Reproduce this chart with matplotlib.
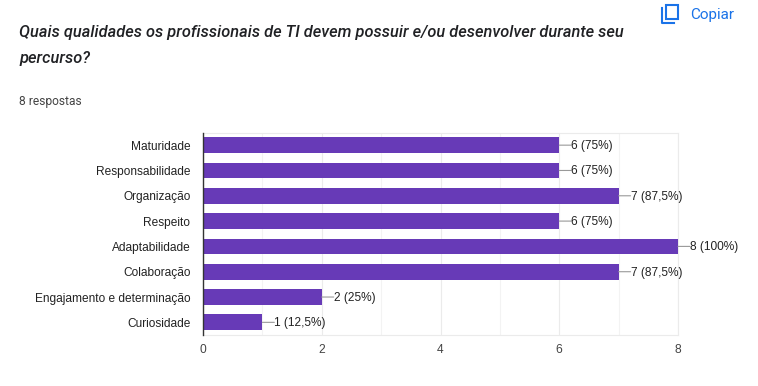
import matplotlib
matplotlib.use("Agg")
import matplotlib.pyplot as plt
import matplotlib.patches as mpatches

plt.rcParams['font.family'] = ['Liberation Sans', 'DejaVu Sans']

categorias = ["Maturidade", "Responsabilidade", "Organização", "Respeito",
              "Adaptabilidade", "Colaboração", "Engajamento e determinação", "Curiosidade"]
valores = [6, 6, 7, 6, 8, 7, 2, 1]
rotulos = ["6 (75%)", "6 (75%)", "7 (87,5%)", "6 (75%)",
           "8 (100%)", "7 (87,5%)", "2 (25%)", "1 (12,5%)"]
ticks_x = [0, 2, 4, 6, 8]

W, H = 758, 386
AZUL = '#1a73e8'
fig = plt.figure(figsize=(W / 100, H / 100), dpi=100, facecolor='white')

# area do grafico em pixels: x 203-678, y 132-335
ax = fig.add_axes([203 / W, 1 - 335 / H, (678 - 203) / W, (335 - 132.5) / H])
pos = list(range(len(categorias)))
ax.barh(pos, valores, height=0.62, color='#673ab7', zorder=3)
ax.set_ylim(len(categorias) - 0.5, -0.5)
ax.set_xlim(0, 8)
ax.set_yticks(pos)
ax.set_yticklabels(categorias, fontsize=8.55, color='#222222')
ax.set_xticks(ticks_x)
ax.set_xticklabels([str(t) for t in ticks_x], fontsize=8.64, color='#444444')
ax.set_xticks([1, 3, 5, 7], minor=True)
ax.tick_params(axis='both', which='both', length=0)
ax.tick_params(axis='y', pad=9)
ax.tick_params(axis='x', pad=6.5)
ax.grid(axis='x', which='major', color='#ebebeb', lw=0.8, zorder=0)
ax.grid(axis='x', which='minor', color='#f3f3f3', lw=0.8, zorder=0)
for lado in ['top', 'right', 'bottom']:
    ax.spines[lado].set_color('#ebebeb')
    ax.spines[lado].set_linewidth(0.8)
ax.spines['left'].set_color('#333333')
ax.spines['left'].set_linewidth(1)
ax.spines['left'].set_zorder(4)

# rotulos de dados com a linha-guia
for p, v, r in zip(pos, valores, rotulos):
    ax.annotate("", xy=(v, p), xytext=(8.6, 0), textcoords='offset points',
                arrowprops=dict(arrowstyle='-', color='#999999', lw=0.8, shrinkA=0, shrinkB=0),
                annotation_clip=False, zorder=4)
    ax.annotate(r, xy=(v, p), xytext=(8.6, -0.6), textcoords='offset points',
                ha='left', va='center', fontsize=8.55, color='#222222',
                annotation_clip=False, zorder=5)

fig.text(19 / W, 1 - 32.5 / H, "Quais qualidades os profissionais de TI devem possuir e/ou desenvolver durante seu",
         fontsize=11.8, family='Roboto', style='italic', fontweight='medium', color='#202124', va='center', ha='left')
fig.text(19 / W, 1 - 58.5 / H, "percurso?",
         fontsize=11.8, family='Roboto', style='italic', fontweight='medium', color='#202124', va='center', ha='left')
fig.text(19 / W, 1 - 101 / H, "8 respostas", fontsize=8.64, family='Roboto', color='#444444', va='center', ha='left')

# icone de copiar
icon = fig.add_axes([0, 0, 1, 1], facecolor='none')
icon.set_xlim(0, W)
icon.set_ylim(H, 0)
icon.axis('off')
icon.add_patch(mpatches.Rectangle((666, 5), 11.5, 14, fill=False, ec=AZUL, lw=1.5))
icon.plot([662, 662, 674], [8, 22.5, 22.5], color=AZUL, lw=1.5)
fig.text(690 / W, 1 - 14.5 / H, "Copiar", fontsize=11, family='Roboto', color=AZUL, va='center', ha='left')

fig.savefig("out.png", dpi=100, facecolor='white')
